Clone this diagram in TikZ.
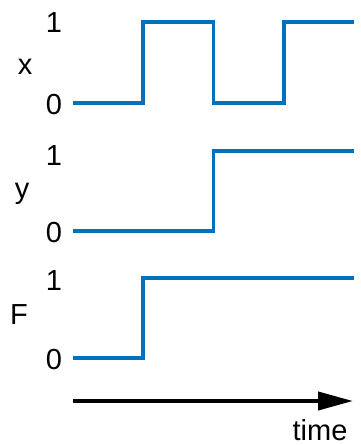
\documentclass[tikz,border=0pt]{standalone}
\usepackage{fontspec}
\setmainfont{Liberation Sans}
\usepackage{tikz}
\usetikzlibrary{arrows.meta}
\definecolor{sigblue}{RGB}{0,114,189}

\begin{document}
\begin{tikzpicture}[x=1pt,y=-1pt,
    lbl/.style={inner sep=0pt,font=\fontsize{29}{35}\selectfont},
    wave/.style={sigblue,line width=3.6pt,line join=miter}]
        \def\ts{73}
        \def\ta{143}
        \def\tb{213.5}
        \def\tc{284}
        \def\te{354}

        \useasboundingbox (0,0) rectangle (360,445);

        %------------------
        % 信号 x
        %------------------
        \node[lbl] (xname) at (25,67) {x};
        \node[lbl] (xhi) at (54,22.5) {1};
        \node[lbl] (xlo) at (54,105) {0};
        \draw[wave] (\ts,103) -- (\ta,103) -- (\ta,22) -- (\tb,22)
          -- (\tb,103) -- (\tc,103) -- (\tc,22) -- (\te,22);

        %------------------
        % 信号 y
        %------------------
        \node[lbl] (yname) at (22,194) {y};
        \node[lbl] (yhi) at (54,156) {1};
        \node[lbl] (ylo) at (54,233) {0};
        \draw[wave] (\ts,231) -- (\tb,231) -- (\tb,151) -- (\te,151);

        %------------------
        % 出力 F
        %------------------
        \node[lbl] (fname) at (19,315) {F};
        \node[lbl] (fhi) at (54,281) {1};
        \node[lbl] (flo) at (54,360) {0};
        \draw[wave] (\ts,358) -- (\ta,358) -- (\ta,278) -- (\te,278);

        %------------------
        % 時間軸
        %------------------
        \coordinate (tstart) at (\ts,401);
        \coordinate (tend) at (353,401);
        \draw[-{Triangle[length=35pt,width=18pt]},line width=4pt] (tstart) -- (tend);

        % ラベル
        \node[lbl,anchor=base] (tlabel) at (320,440) {time};
      \end{tikzpicture}
\end{document}
